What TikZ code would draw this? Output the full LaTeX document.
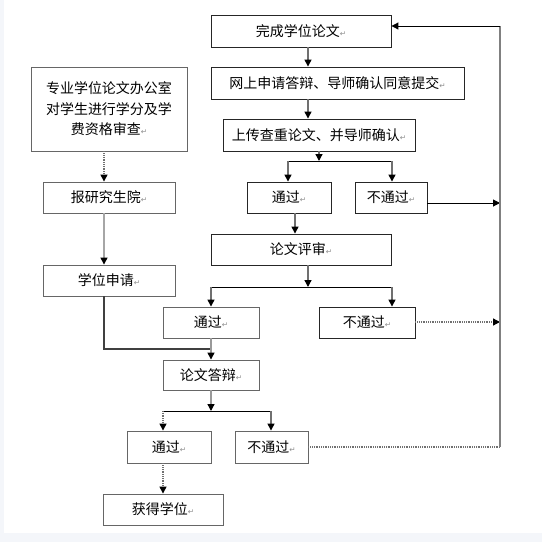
\documentclass[tikz,border=0pt]{standalone}
\usepackage{fontspec}
\setmainfont{Noto Sans CJK SC}
\newfontfamily\dvfont{DejaVu Sans}
\usetikzlibrary{arrows.meta}
\newcommand{\pmk}{{\dvfont\fontsize{7.5}{7.5}\selectfont\color{black!45}↵}}
\definecolor{bgc}{HTML}{F4F6FA}
\definecolor{lnc}{HTML}{707070}
\begin{document}
\begin{tikzpicture}[x=1pt,y=-1pt,
  box/.style={draw=black!85,line width=0.9pt,inner sep=0pt,font=\fontsize{14}{20.5}\selectfont,align=center},
  gbox/.style={box,draw=black!60},
  arr/.style={draw=lnc,line width=1.3pt,-{Triangle[width=7pt,length=7pt,color=black]}},
  darr/.style={arr,dash pattern=on 1pt off 0.8pt},
  hl/.style={draw=black,line width=1pt},
  dl/.style={draw=lnc,line width=1.2pt,dash pattern=on 1pt off 0.8pt}]
\fill[bgc] (0,0) rectangle (542,542);
\fill[white] (4,0) rectangle (542,533);
\useasboundingbox (0,0) rectangle (542,542);
% nodes
\node[box,minimum width=180pt,minimum height=32pt] (A) at (301,31) {完成学位论文\pmk};
\node[box,minimum width=253pt,minimum height=32pt] (B) at (337.5,83) {网上申请答辩、导师确认同意提交\pmk};
\node[box,minimum width=192pt,minimum height=32pt] (C) at (319,135) {上传查重论文、并导师确认\pmk};
\node[gbox,minimum width=156pt,minimum height=84pt] (L) at (109,109) {专业学位论文办公室\\对学生进行学分及学\\费资格审查\pmk};
\node[gbox,minimum width=132pt,minimum height=31pt] (D) at (109,197.5) {报研究生院\pmk};
\node[gbox,minimum width=132pt,minimum height=31pt] (E) at (109,280.5) {学位申请\pmk};
\node[box,minimum width=84pt,minimum height=31pt] (F) at (289,197.5) {通过\pmk};
\node[box,minimum width=72pt,minimum height=31pt] (G) at (391,197.5) {不通过\pmk};
\node[box,minimum width=180pt,minimum height=31pt] (H) at (301,249.5) {论文评审\pmk};
\node[gbox,minimum width=96pt,minimum height=31pt] (I) at (211,322.5) {通过\pmk};
\node[box,minimum width=96pt,minimum height=31pt] (J) at (367,322.5) {不通过\pmk};
\node[gbox,minimum width=96pt,minimum height=30pt] (K) at (211,375) {论文答辩\pmk};
\node[gbox,minimum width=84pt,minimum height=32pt] (M) at (169,447) {通过\pmk};
\node[gbox,minimum width=73pt,minimum height=32pt] (N) at (271.5,447) {不通过\pmk};
\node[gbox,minimum width=120pt,minimum height=31pt] (P) at (163,509.5) {获得学位\pmk};
% coordinates
\coordinate (xa) at (308,0);
\coordinate (j1) at (319,161);
\coordinate (j1l) at (288,161);
\coordinate (j1r) at (392,161);
\coordinate (v1) at (500,203);
\coordinate (xf) at (295,0);
\coordinate (j2) at (308,287);
\coordinate (j2l) at (211,287);
\coordinate (j2r) at (392,287);
\coordinate (v2) at (500,322);
\coordinate (xl) at (104,0);
\coordinate (e1) at (104,349);
\coordinate (e2) at (211,349);
\coordinate (j3) at (211,411);
\coordinate (j3l) at (163,411);
\coordinate (j3r) at (271,411);
\coordinate (v3) at (500,447);
\coordinate (v4) at (500,26);
% connectors
\draw[arr] (A.south -| xa) -- (B.north -| xa);
\draw[arr] (B.south -| xa) -- (C.north -| xa);
\draw[arr] (C.south) -- (j1);
\draw[hl] (j1l) -- (j1r);
\draw[arr] (j1l) -- (F.north -| j1l);
\draw[arr] (j1r) -- (G.north -| j1r);
\draw[hl,-{Triangle[width=7pt,length=7pt]}] (G.east |- v1) -- (v1);
\draw[arr] (F.south -| xf) -- (H.north -| xf);
\draw[arr] (H.south -| j2) -- (j2);
\draw[hl] (j2l) -- (j2r);
\draw[arr] (j2l) -- (I.north -| j2l);
\draw[arr] (j2r) -- (J.north -| j2r);
\draw[darr] (J.east |- v2) -- (v2);
\draw[darr] (L.south -| xl) -- (D.north -| xl);
\draw[arr,draw=black!35] (D.south -| xl) -- (E.north -| xl);
\draw[hl,draw=black!75,line width=1.2pt] (E.south -| xl) -- (e1) -- (e2);
\draw[arr,draw=black!40] (I.south) -- (K.north);
\draw[arr,draw=black!40] (K.south) -- (j3);
\draw[hl] (j3l) -- (j3r);
\draw[darr] (j3l) -- (M.north -| j3l);
\draw[arr] (j3r) -- (N.north -| j3r);
\draw[darr] (M.south -| j3l) -- (P.north -| j3l);
\draw[dl] (N.east) -- (v3);
\draw[draw=black!50,line width=2pt] (v3) -- (v4);
\draw[hl,-{Triangle[width=7pt,length=7pt]}] (v4) -- (A.east |- v4);
\end{tikzpicture}
\end{document}
